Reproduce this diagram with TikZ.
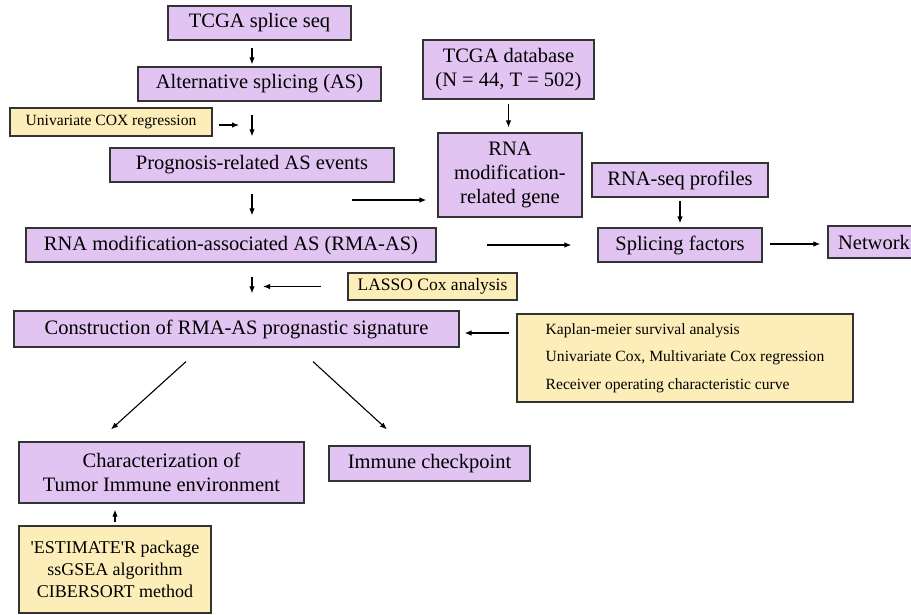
\documentclass[tikz,border=0pt]{standalone}
\usepackage{fontspec}
\setmainfont{Liberation Serif}
\usetikzlibrary{arrows.meta,calc}

\definecolor{boxpurple}{HTML}{E2C4F2}
\definecolor{boxyellow}{HTML}{FDEDB8}
\definecolor{boxline}{HTML}{333333}

\tikzset{
  stepnode/.style={draw=boxline, line width=1.2pt, fill=boxpurple, inner sep=0pt,
    align=center, font=\fontsize{20.5}{24}\selectfont},
  notenode/.style={draw=boxline, line width=1.2pt, fill=boxyellow, inner sep=0pt,
    align=center},
  flow/.style={-{Latex[length=7pt,width=5.5pt]}, line width=1.1pt}
}

\begin{document}
\begin{tikzpicture}[x=1pt, y=-1pt]
    \useasboundingbox (0,0) rectangle (911,614);

    % Splicing branch
    \node[stepnode, minimum width=183pt, minimum height=34pt] (splice) at (259.5,23) {TCGA splice seq};
    \node[stepnode, minimum width=243pt, minimum height=34pt] (altsplice) at (259.5,84) {Alternative splicing (AS)};
    \node[notenode, minimum width=202pt, minimum height=28pt, font=\fontsize{15.6}{18}\selectfont] (unicox) at (111,122) {Univariate COX regression};
    \node[stepnode, minimum width=284pt, minimum height=34pt] (prognosis) at (252,165) {Prognosis-related AS events};
    \node[stepnode, minimum width=410pt, minimum height=34pt] (rmaas) at (231,245) {RNA modification-associated AS (RMA-AS)};
    \node[notenode, minimum width=169pt, minimum height=27pt, font=\fontsize{17.5}{20}\selectfont] (lasso) at (432.5,286.5) {LASSO Cox analysis};
    \node[stepnode, minimum width=445pt, minimum height=36pt] (signature) at (236.5,329) {Construction of RMA-AS prognastic signature};

    % Gene branch
    \node[stepnode, minimum width=171pt, minimum height=59pt] (tcgadb) at (508.5,69.5) {TCGA database\\(N = 44, T = 502)};
    \node[stepnode, minimum width=144pt, minimum height=84pt] (rnagene) at (510,175) {RNA\\modification-\\related gene};
    \node[stepnode, minimum width=176pt, minimum height=34pt] (rnaseq) at (680,180) {RNA-seq profiles};
    \node[stepnode, minimum width=164pt, minimum height=34pt] (factors) at (680,245) {Splicing factors};
    \node[stepnode, minimum width=92pt, minimum height=32pt] (network) at (874,242) {Network};
    \node[notenode, minimum width=336pt, minimum height=88pt, align=left, font=\fontsize{15.6}{27.5}\selectfont] (survival) at (685,358)
        {Kaplan-meier survival analysis\\Univariate Cox, Multivariate Cox regression\\Receiver operating characteristic curve};

    % Immune part
    \node[stepnode, minimum width=285pt, minimum height=61pt] (immenv) at (161.5,472.5) {Characterization of\\Tumor Immune environment};
    \node[stepnode, minimum width=201pt, minimum height=35pt] (checkpoint) at (429.5,463.5) {Immune checkpoint};
    \node[notenode, minimum width=192pt, minimum height=87pt, font=\fontsize{18}{22}\selectfont] (estimate) at (115,569.5)
        {\textquotesingle ESTIMATE\textquotesingle R package\\ssGSEA algorithm\\CIBERSORT method};

    % Connections
    \coordinate (genetail) at (352,200);
    \draw[flow, shorten <=7pt, shorten >=2pt] ([xshift=-7.5pt]splice.south) -- ([xshift=-7.5pt]altsplice.north);
    \draw[flow, shorten <=13pt, shorten >=11pt] ([xshift=-7.5pt]altsplice.south) -- (prognosis.north);
    \draw[flow, shorten <=6pt, shorten >=13pt] ([yshift=-3pt]unicox.east) -- ([yshift=-3pt]unicox.east -| prognosis.north);
    \draw[flow, shorten <=11pt, shorten >=12pt] (prognosis.south) -- (prognosis.south |- rmaas.north);
    \draw[flow, shorten >=11pt] (genetail) -- (genetail -| rnagene.west);
    \draw[flow, shorten <=4pt, shorten >=5pt] (tcgadb.south) -- (tcgadb.south |- rnagene.north);
    \draw[flow, shorten <=3pt, shorten >=4pt] (rnaseq) -- (factors);
    \draw[flow, shorten <=50pt, shorten >=26pt] (rmaas.east) -- (rmaas.east -| factors.west);
    \draw[flow, shorten <=7pt, shorten >=7pt] ([yshift=1pt]factors.east) -- ([yshift=1pt]factors.east -| network.west);
    \draw[flow, shorten <=14pt, shorten >=17pt] (prognosis.south |- rmaas.south) -- (prognosis.south |- signature.north);
    \draw[flow, shorten <=26pt, shorten >=11pt] (lasso.west) -- (lasso.west -| prognosis.south);
    \draw[flow, shorten <=7pt, shorten >=5pt] ([yshift=-4pt]survival.west |- signature.east) -- ([yshift=-4pt]signature.east);
    \draw[flow] ($(signature.south)+(-50.5,14)$) -- ($(immenv.north)+(-50.5,-12)$);
    \draw[flow] ($(signature.south)+(76.5,14)$) -- ($(checkpoint.north)+(-42.5,-16)$);
    \draw[flow, shorten <=3pt, shorten >=6pt] (estimate.north) -- (estimate.north |- immenv.south);

\end{tikzpicture}
\end{document}
